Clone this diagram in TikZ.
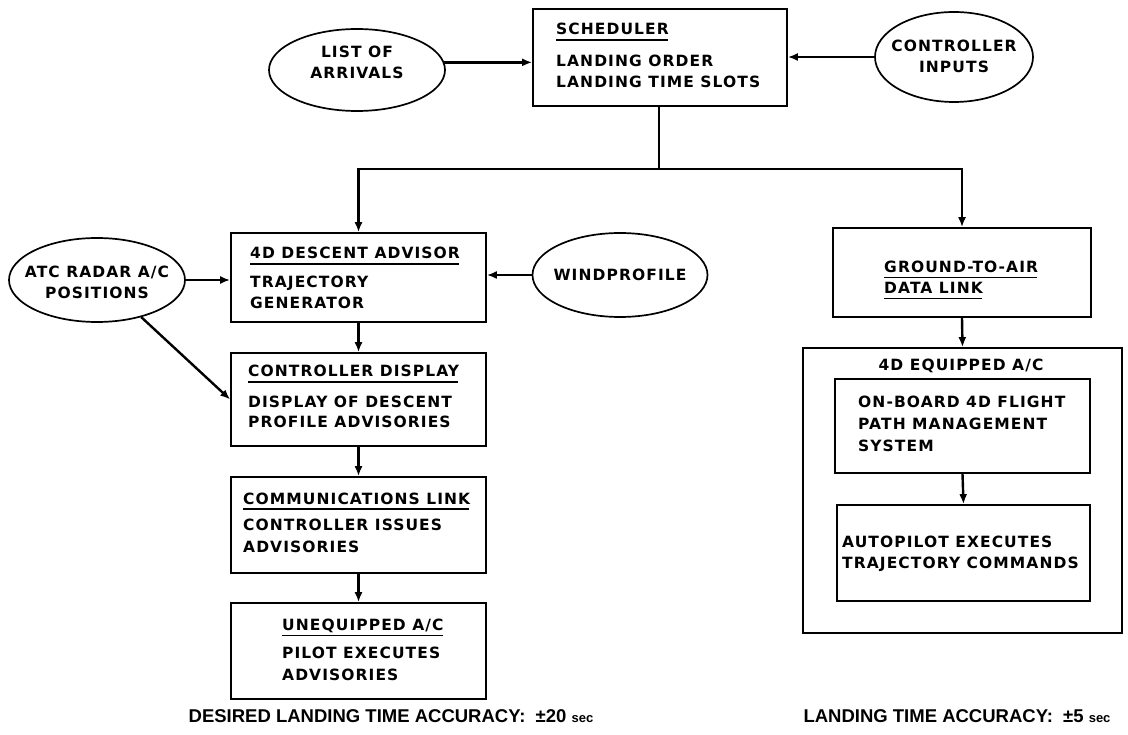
\documentclass[tikz,border=0pt]{standalone}
\usepackage{fontspec}
\setmainfont{DejaVu Sans}[LetterSpace=7]
\newfontfamily\footfont{Liberation Sans}
\usetikzlibrary{arrows.meta,shapes.geometric}
\tikzset{
  box/.style={draw, line width=1.7pt, inner sep=0pt},
  oval/.style={ellipse, draw, line width=1.7pt, inner sep=0pt},
  otxt/.style={inner sep=0pt, align=center, font=\bfseries\fontsize{15.5}{21}\selectfont},
  lbl/.style={font=\bfseries\fontsize{15.5}{19}\selectfont, inner sep=0pt, anchor=base west},
  ctr/.style={font=\bfseries\fontsize{15.5}{19}\selectfont, inner sep=0pt, anchor=base},
  foot/.style={font=\footfont\bfseries\fontsize{18.5}{21}\selectfont, inner sep=0pt},
  uline/.style={line width=1.4pt},
  wire/.style={line width=2.4pt},
  conn/.style={line width=2.4pt, -{Latex[length=10pt,width=8pt]}}
}
\begin{document}
\begin{tikzpicture}[x=1pt,y=-1pt]
\fill[white] (0,0) rectangle (1128,735);
\useasboundingbox (0,0) rectangle (1128,735);

% ---- ellipses
\node[oval, minimum width=176pt, minimum height=82pt] (list) at (357,70) {};
\node[otxt] (listt) at (357,62) {LIST OF\\ARRIVALS};
\node[oval, minimum width=158pt, minimum height=90pt] (ctrl) at (954,57) {};
\node[otxt] (ctrlt) at (954,56) {CONTROLLER\\INPUTS};
\node[oval, minimum width=176pt, minimum height=84pt] (atc) at (97,280) {};
\node[otxt] (atct) at (97,282) {ATC RADAR A/C\\POSITIONS};
\node[oval, minimum width=175pt, minimum height=84pt] (wind) at (620,275) {};
\node[otxt] (windt) at (620,275) {WINDPROFILE};

% ---- boxes
\node[box, minimum width=254pt, minimum height=97pt] (sched) at (660,57.5) {};
\node[box, minimum width=255pt, minimum height=89pt] (adv) at (358.5,277.5) {};
\node[box, minimum width=255pt, minimum height=93pt] (cd) at (358.5,399.5) {};
\node[box, minimum width=255pt, minimum height=96pt] (comm) at (358.5,525) {};
\node[box, minimum width=255pt, minimum height=96pt] (uneq) at (358.5,651) {};
\node[box, minimum width=258pt, minimum height=89pt] (gnd) at (962,272.5) {};
\node[box, minimum width=319pt, minimum height=285pt] (outer) at (962.5,490.5) {};
\node[box, minimum width=255pt, minimum height=94pt] (fms) at (962.5,426) {};
\node[box, minimum width=253pt, minimum height=96pt] (ap) at (963.5,553) {};

% ---- box texts
\node[lbl] (s1) at (556,35) {SCHEDULER};
\node[lbl] (s2) at (556,67) {LANDING ORDER};
\node[lbl] (s3) at (556,88) {LANDING TIME SLOTS};

\node[lbl] (a1) at (250,259) {4D DESCENT ADVISOR};
\node[lbl] (a2) at (250,287.5) {TRAJECTORY};
\node[lbl] (a3) at (250,308.5) {GENERATOR};

\node[lbl] (c1) at (248,377) {CONTROLLER DISPLAY};
\node[lbl] (c2) at (248,407.5) {DISPLAY OF DESCENT};
\node[lbl] (c3) at (248,428) {PROFILE ADVISORIES};

\node[lbl] (m1) at (243,504) {COMMUNICATIONS LINK};
\node[lbl] (m2) at (243,530.5) {CONTROLLER ISSUES};
\node[lbl] (m3) at (243,552) {ADVISORIES};

\node[lbl] (u1) at (282,630.5) {UNEQUIPPED A/C};
\node[lbl] (u2) at (282,658.5) {PILOT EXECUTES};
\node[lbl] (u3) at (282,680.5) {ADVISORIES};

\node[lbl] (g1) at (884,272.5) {GROUND-TO-AIR};
\node[lbl] (g2) at (884,293.5) {DATA LINK};

\node[ctr] (e1) at (961,370.5) {4D EQUIPPED A/C};

\node[lbl] (f1) at (858,408) {ON-BOARD 4D FLIGHT};
\node[lbl] (f2) at (858,430) {PATH MANAGEMENT};
\node[lbl] (f3) at (858,452) {SYSTEM};

\node[lbl] (p1) at (842,547.5) {AUTOPILOT EXECUTES};
\node[lbl] (p2) at (842,568.5) {TRAJECTORY COMMANDS};

% ---- underlines
\foreach \t in {s1,a1,c1,m1,u1,g1,g2}
  \draw[uline] ([yshift=-5pt]\t.base west) -- ([yshift=-5pt,xshift=-1pt]\t.base east);

% ---- footer
\node[foot] (d1) at (391,716) {DESIRED LANDING TIME ACCURACY:\ \ ±20 {\fontsize{13}{15}\selectfont sec}};
\node[foot] (d2) at (957,716) {LANDING TIME ACCURACY:\ \ ±5 {\fontsize{13}{15}\selectfont sec}};

% ---- connectors
\draw[conn] (list.5) -- (list.5 -| sched.west);
\draw[conn] (ctrl.west) -- (ctrl.west -| sched.east);
\coordinate (bus) at (659,169);
\draw[wire] (sched.south -| bus) -- (bus);
\draw[conn] (bus) -| (adv.north);
\draw[conn] (bus) -| (gnd.north);
\draw[conn] (atc.east) -- (atc.east -| adv.west);
\draw[conn] (wind.west) -- (wind.west -| adv.east);
\draw[conn] (atc.-40) -- (cd.west);
\draw[conn] (adv.south) -- (cd.north);
\draw[conn] (cd.south) -- (comm.north);
\draw[conn] (comm.south) -- (uneq.north);
\draw[conn] (gnd.south) -- (outer.north);
\draw[conn] (fms.south) -- (ap.north);
\end{tikzpicture}
\end{document}
